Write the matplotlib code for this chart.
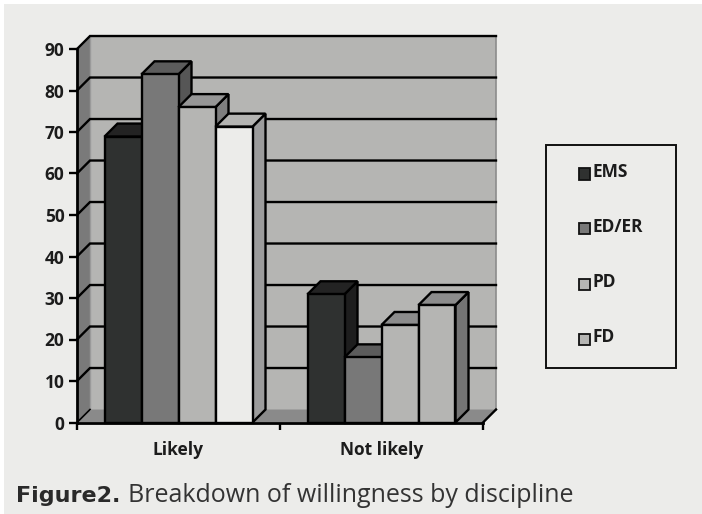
import matplotlib
matplotlib.use('Agg')
import matplotlib.pyplot as plt
from matplotlib.patches import Polygon, Rectangle

W, H = 702, 514

categories = ['Likely', 'Not likely']
series_names = ['EMS', 'ED/ER', 'PD', 'FD']
likely = [68.9, 83.9, 76.0, 71.3]
not_likely = [30.9, 15.7, 23.5, 28.3]
y_ticks = [0, 10, 20, 30, 40, 50, 60, 70, 80, 90]

# (front, top, side) per bar of each group
likely_colors = [('#2f3130', '#232323', '#1e1e1e'),
                 ('#787878', '#5c5c5c', '#565656'),
                 ('#b5b5b3', '#969696', '#7e7e7e'),
                 ('#ececea', '#b4b4b2', '#9c9c9c')]
not_likely_colors = [('#2f3130', '#232323', '#1e1e1e'),
                     ('#787878', '#5c5c5c', '#565656'),
                     ('#b5b5b3', '#8c8c8c', '#7e7e7e'),
                     ('#b5b5b3', '#8c8c8c', '#747474')]
legend_colors = ['#2f3130', '#787878', '#b5b5b3', '#b5b5b3']

LABEL_FONT = 'Open Sans'
INK = '#1c1c1c'


def px(x, y):
    return x / W, 1 - y / H


fig = plt.figure(figsize=(W / 100, H / 100), dpi=100, facecolor='white')
fig.patches.append(Rectangle((4 / W, 0), 1, 1 - 4 / H, transform=fig.transFigure,
                             facecolor='#ececea', edgecolor='none', zorder=-5))

# axes box is the front plane of the 3d chart
left, bottom = px(77, 422.5)
right, top = px(483, 49)
ax = fig.add_axes([left, bottom, right - left, top - bottom])
ax.set_xlim(0, 2)
ax.set_ylim(0, 90)
ax.patch.set_alpha(0)
for s in ax.spines.values():
    s.set_visible(False)

# depth of the box: 13 pixels back and up
dx = 13 / 203
dy = 13 / 4.155


def poly(points, color, z=2, lw=0):
    ax.add_patch(Polygon(points, closed=True, facecolor=color, edgecolor='black',
                         linewidth=lw, joinstyle='miter', clip_on=False, zorder=z))


# walls and floor
poly([(dx, dy), (2 + dx, dy), (2 + dx, 90 + dy), (dx, 90 + dy)], '#b5b5b3', 1)
poly([(0, 0), (dx, dy), (dx, 90 + dy), (0, 90)], '#7a7a7a', 1)
poly([(0, 0), (2, 0), (2 + dx, dy), (dx, dy)], '#8a8a8a', 1)
ax.plot([2 + dx, 2 + dx], [dy, 90 + dy], color='#8c8c8c', lw=1.2, clip_on=False, zorder=1.2)
ax.plot([dx, dx], [dy, 90 + dy], color='#9a9a9a', lw=1, clip_on=False, zorder=1.2)

# gridlines run along the back wall and down the side wall
for t in y_ticks[1:]:
    ax.plot([0, dx, 2 + dx], [t, t + dy, t + dy], color='black', lw=1.7,
            clip_on=False, zorder=1.5, solid_joinstyle='miter')
ax.plot([0, dx], [0, dy], color='black', lw=1.2, clip_on=False, zorder=1.5)
ax.plot([2, 2 + dx], [0, dy], color='black', lw=1.7, clip_on=False, zorder=1.5)

# bars, left to right so each front covers the previous side face
bar_w = 37 / 203
z = 3
for i, (vals, cols) in enumerate([(likely, likely_colors), (not_likely, not_likely_colors)]):
    x0 = i + 0.5 - 2 * bar_w
    for j, v in enumerate(vals):
        xa = x0 + j * bar_w
        xb = xa + bar_w
        front, top_c, side = cols[j]
        poly([(xb, 0), (xb + dx, dy), (xb + dx, v + dy), (xb, v)], side, z, 1.7)
        poly([(xa, v), (xb, v), (xb + dx, v + dy), (xa + dx, v + dy)], top_c, z, 1.7)
        poly([(xa, 0), (xb, 0), (xb, v), (xa, v)], front, z, 1.7)
        z += 1

# axis lines and ticks
ax.plot([0, 0], [0, 90], color='black', lw=2, clip_on=False, zorder=20)
ax.plot([0, 2], [0, 0], color='black', lw=2, clip_on=False, zorder=20)
ax.set_xticks([0, 1, 2])
ax.set_xticklabels([])
ax.set_yticks(y_ticks)
ax.set_yticklabels([str(t) for t in y_ticks], fontfamily=LABEL_FONT, fontweight='bold',
                   fontsize=12.5, color=INK)
ax.tick_params(axis='y', length=6, width=1.7, pad=3, color='black')
ax.tick_params(axis='x', length=5, width=1.7, color='black')

for i, c in enumerate(categories):
    fx, fy = px(178.5 + i * 203, 450)
    fig.text(fx, fy, c, ha='center', va='center', fontfamily=LABEL_FONT,
             fontweight='bold', fontsize=12.5, color=INK)

# legend box
lx, ly = px(546, 368)
fig.patches.append(Rectangle((lx, ly), 130 / W, 223 / H, transform=fig.transFigure,
                             facecolor='none', edgecolor='#111111', linewidth=1.4))
legend_y = [174, 229, 284, 339]
for name, col, y in zip(series_names, legend_colors, legend_y):
    sx, sy = px(578.5, y + 5.5)
    fig.patches.append(Rectangle((sx, sy), 11 / W, 11 / H, transform=fig.transFigure,
                                 facecolor=col, edgecolor='#111111', linewidth=1.3))
    tx, ty = px(593, y - 2)
    fig.text(tx, ty, name, ha='left', va='center', fontfamily=LABEL_FONT,
             fontweight='bold', fontsize=12.5, color=INK)

# caption under the chart
cx, cy = px(16, 496)
bold = fig.text(cx, cy, 'Figure2.', ha='left', va='center', fontfamily='DejaVu Sans',
                fontweight='bold', fontsize=16, color='#2a2a2a')
fig.canvas.draw()
end = bold.get_window_extent().x1
fig.text((end + 8) / W, cy, 'Breakdown of willingness by discipline', ha='left', va='center',
         fontfamily='Open Sans', fontsize=18, color='#333333')

fig.savefig('out.png', dpi=100, facecolor=fig.get_facecolor())
